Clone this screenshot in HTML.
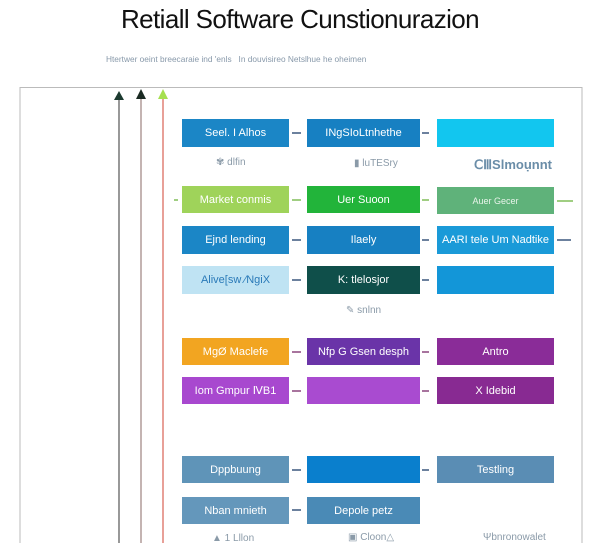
<!DOCTYPE html>
<html><head><meta charset="utf-8"><style>
body{margin:0;width:600px;height:543px;background:#fff;position:relative;overflow:hidden;font-family:"Liberation Sans",sans-serif}
.b{position:absolute;color:#fff;font-size:11px;display:flex;align-items:center;justify-content:center;white-space:nowrap}
.t{position:absolute;font-size:10px;color:#8a9aa8;white-space:nowrap}
svg{position:absolute;left:0;top:0}
</style></head><body>
<div style="position:absolute;left:0;width:600px;top:4px;text-align:center;font-size:26px;color:#111;letter-spacing:-0.6px">Retiall Software Cunstionurazion</div>
<div class="t" style="left:106px;top:54px;font-size:8.3px;color:#8899aa">Htertwer oeint breecaraie ind 'enls &nbsp; In douvisireo Netslhue he oheimen</div>
<svg width="600" height="543">
<rect x="20" y="87.5" width="562" height="470" fill="none" stroke="#bbb" stroke-width="1"/>
<line x1="119" y1="96" x2="119" y2="543" stroke="#555" stroke-width="1.2"/>
<line x1="141" y1="96" x2="141" y2="543" stroke="#8a6a66" stroke-width="1"/>
<line x1="163" y1="96" x2="163" y2="543" stroke="#d04030" stroke-width="1"/>
<polygon points="114,100 124,100 119,91" fill="#1c3a30"/>
<polygon points="136,99 146,99 141,89" fill="#1a2a22"/>
<polygon points="158,99 168,99 163,89" fill="#a6e050"/>
<g stroke="#1d3d6a" stroke-width="1.3" fill="#1d3d6a">
<line x1="292" y1="133" x2="301" y2="133"/><line x1="422" y1="133" x2="429" y2="133"/>
<line x1="292" y1="240" x2="301" y2="240"/><line x1="422" y1="240" x2="429" y2="240"/><line x1="557" y1="240" x2="571" y2="240"/>
<line x1="292" y1="280" x2="301" y2="280"/><line x1="422" y1="280" x2="429" y2="280"/>
<line x1="292" y1="470" x2="301" y2="470"/><line x1="422" y1="470" x2="429" y2="470"/>
<line x1="292" y1="510" x2="301" y2="510"/>
</g>
<g stroke="#6db33f" stroke-width="1.3"><line x1="292" y1="200" x2="301" y2="200"/><line x1="422" y1="200" x2="429" y2="200"/><line x1="557" y1="201" x2="573" y2="201"/><line x1="174" y1="200" x2="178" y2="200"/></g>
<g stroke="#7a2a6a" stroke-width="1.3"><line x1="292" y1="352" x2="301" y2="352"/><line x1="422" y1="352" x2="429" y2="352"/><line x1="292" y1="391" x2="301" y2="391"/><line x1="422" y1="391" x2="429" y2="391"/></g>
</svg>
<div class="b" style="left:182px;top:119px;width:107px;height:28px;background:#1b86c6">Seel. I Alhos</div>
<div class="b" style="left:307px;top:119px;width:113px;height:28px;background:#1780c2">INgSIoLtnhethe</div>
<div class="b" style="left:437px;top:119px;width:117px;height:28px;background:#12c6ef"></div>
<div class="t" style="left:216px;top:157px">✾ dlfin</div>
<div class="t" style="left:354px;top:158px">▮ luTESry</div>
<div class="t" style="left:474px;top:157px;font-size:13px;color:#6a8da8;font-weight:bold">ⅭⅢSlmoụnnt</div>
<div class="b" style="left:182px;top:186px;width:107px;height:27px;background:#9fd35a">Market conmis</div>
<div class="b" style="left:307px;top:186px;width:113px;height:27px;background:#22b43a">Uer Suoon</div>
<div class="b" style="left:437px;top:187px;width:117px;height:27px;background:#5fb27a;font-size:9px;color:#e8f4ea">Auer Gecer</div>
<div class="b" style="left:182px;top:226px;width:107px;height:28px;background:#1b86c6">Ejnd lending</div>
<div class="b" style="left:307px;top:226px;width:113px;height:28px;background:#1780c2">Ilaely</div>
<div class="b" style="left:437px;top:226px;width:117px;height:28px;background:#1a9ad8">AARI tele Um Nadtike</div>
<div class="b" style="left:182px;top:266px;width:107px;height:28px;background:#bfe3f3;color:#2a7ab8">Alive[sw ∕NgiX</div>
<div class="b" style="left:307px;top:266px;width:113px;height:28px;background:#0f4f4a">K: tlelosjor</div>
<div class="b" style="left:437px;top:266px;width:117px;height:28px;background:#1396d8"></div>
<div class="t" style="left:346px;top:305px">✎ snlnn</div>
<div class="b" style="left:182px;top:338px;width:107px;height:27px;background:#f2a521">MgØ Maclefe</div>
<div class="b" style="left:307px;top:338px;width:113px;height:27px;background:#6a34a8">Nfp G Gsen desph</div>
<div class="b" style="left:437px;top:338px;width:117px;height:27px;background:#8a2c98">Antro</div>
<div class="b" style="left:182px;top:377px;width:107px;height:27px;background:#a848cf">Iom Gmpur ⅣB1</div>
<div class="b" style="left:307px;top:377px;width:113px;height:27px;background:#a94bd0"></div>
<div class="b" style="left:437px;top:377px;width:117px;height:27px;background:#882a92">X Idebid</div>
<div class="b" style="left:182px;top:456px;width:107px;height:27px;background:#5f94b8">Dppbuung</div>
<div class="b" style="left:307px;top:456px;width:113px;height:27px;background:#0a7fcd"></div>
<div class="b" style="left:437px;top:456px;width:117px;height:27px;background:#5a8db4">Testling</div>
<div class="b" style="left:182px;top:497px;width:107px;height:27px;background:#6497bb">Nban mnieth</div>
<div class="b" style="left:307px;top:497px;width:113px;height:27px;background:#4a8ab6">Depole petz</div>
<div class="t" style="left:212px;top:533px">▲ 1 Lllon</div>
<div class="t" style="left:348px;top:532px">▣ Cloon△</div>
<div class="t" style="left:483px;top:532px">Ψbnronowalet</div>
</body></html>
